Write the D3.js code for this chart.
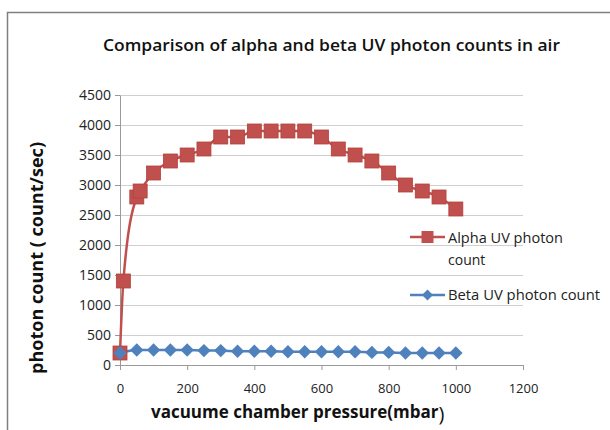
<!DOCTYPE html>
<html>
<head>
<style>
  body { margin: 0; background: #fff; }
  text { font-family: "Open Sans", sans-serif; }
</style>
</head>
<body>
<svg id="chart" width="610" height="430"></svg>
<script src="https://d3js.org/d3.v7.min.js"></script>
<script>
// pressure (mbar) and counts
const alphaPressure = [0, 10, 50, 60, 100, 150, 200, 250, 300, 350, 400, 450, 500, 550, 600, 650, 700, 750, 800, 850, 900, 950, 1000];
const alphaCounts = [200, 1400, 2800, 2900, 3200, 3400, 3500, 3600, 3800, 3800, 3900, 3900, 3900, 3900, 3800, 3600, 3500, 3400, 3200, 3000, 2900, 2800, 2600];
const betaPressure = [0, 50, 100, 150, 200, 250, 300, 350, 400, 450, 500, 550, 600, 650, 700, 750, 800, 850, 900, 950, 1000];
const betaCounts = [200, 250, 250, 250, 250, 240, 240, 230, 230, 230, 220, 220, 220, 220, 220, 210, 210, 200, 200, 200, 200];
const xTicks = [0, 200, 400, 600, 800, 1000, 1200];
const yTicks = [0, 500, 1000, 1500, 2000, 2500, 3000, 3500, 4000, 4500];

const svg = d3.select('#chart');

// outer chart frame (runs off the right and bottom edge)
svg.append('rect')
  .attr('x', 7.5).attr('y', 12.5)
  .attr('width', 700).attr('height', 500)
  .attr('fill', 'none').attr('stroke', '#7f7f7f').attr('stroke-width', 1.5);

const x = d3.scaleLinear().domain([0, 1200]).range([120, 523]);
const y = d3.scaleLinear().domain([0, 4500]).range([365, 95]);

// gridlines
svg.append('g')
  .selectAll('line')
  .data(yTicks.filter(d => d > 0))
  .join('line')
  .attr('x1', x(0)).attr('x2', x(1200))
  .attr('y1', d => y(d) + 0.5).attr('y2', d => y(d) + 0.5)
  .attr('stroke', '#cfcfcf').attr('stroke-width', 1.2);

// y axis
const yAxis = svg.append('g')
  .attr('transform', `translate(${x(0)},0)`)
  .call(d3.axisLeft(y).tickValues(yTicks).tickFormat(d3.format('d')).tickSize(5).tickSizeOuter(0).tickPadding(4));
yAxis.select('.domain').attr('stroke', '#9a9a9a');
yAxis.selectAll('.tick line').attr('stroke', '#9a9a9a');
yAxis.selectAll('text').attr('font-size', 14).attr('fill', '#222')
  .style('font-family', '"Open Sans", sans-serif');

// x axis
const xAxis = svg.append('g')
  .attr('transform', `translate(0,${y(0)})`)
  .call(d3.axisBottom(x).tickValues(xTicks).tickFormat(d3.format('d')).tickSize(5).tickSizeOuter(0).tickPadding(14));
xAxis.select('.domain').attr('stroke', '#9a9a9a');
xAxis.selectAll('.tick line').attr('stroke', '#9a9a9a');
xAxis.selectAll('text').attr('font-size', 13).attr('fill', '#222')
  .style('font-family', '"Open Sans", sans-serif');

// lines
const alphaData = alphaPressure.map((p, i) => [p, alphaCounts[i]]);
const betaData = betaPressure.map((p, i) => [p, betaCounts[i]]);
const line = d3.line().x(d => x(d[0])).y(d => y(d[1])).curve(d3.curveMonotoneX);

svg.append('path').datum(alphaData).attr('d', line)
  .attr('fill', 'none').attr('stroke', '#c0504d').attr('stroke-width', 2.5);
svg.append('path').datum(betaData).attr('d', line)
  .attr('fill', 'none').attr('stroke', '#4f81bd').attr('stroke-width', 2.5);

// markers
const sq = 14;
svg.append('g').selectAll('rect')
  .data(alphaData)
  .join('rect')
  .attr('x', d => x(d[0]) - sq / 2).attr('y', d => y(d[1]) - sq / 2)
  .attr('width', sq).attr('height', sq)
  .attr('fill', '#c0504d').attr('stroke', '#b5403d').attr('stroke-width', 0.8);

svg.append('g').selectAll('path')
  .data(betaData)
  .join('path')
  .attr('transform', d => `translate(${x(d[0])},${y(d[1])}) rotate(45)`)
  .attr('d', d3.symbol().type(d3.symbolSquare).size(90))
  .attr('fill', '#4f81bd');

// title
svg.append('text')
  .attr('x', 103).attr('y', 51)
  .attr('textLength', 457).attr('lengthAdjust', 'spacingAndGlyphs')
  .attr('font-size', 17).attr('font-weight', 600).attr('fill', '#111')
  .text('Comparison of alpha and beta UV photon  counts in air');

// y axis title
svg.append('text')
  .attr('transform', 'translate(43,258) rotate(-90)')
  .attr('text-anchor', 'middle')
  .attr('textLength', 232).attr('lengthAdjust', 'spacingAndGlyphs')
  .attr('font-size', 17).attr('font-weight', 'bold').attr('fill', '#111')
  .text('photon count ( count/sec)');

// x axis title, the closing bracket is drawn larger as in the original
const xt = svg.append('text')
  .attr('x', 151).attr('y', 418)
  .attr('font-size', 17).attr('font-weight', 'bold').attr('fill', '#111');
xt.append('tspan').text('vacuume chamber pressure(mbar');
xt.append('tspan').attr('dy', 3).attr('font-size', 20).attr('font-weight', 'normal').text(')');

// legend
const legend = svg.append('g');
legend.append('line').attr('x1', 410).attr('x2', 445).attr('y1', 237).attr('y2', 237)
  .attr('stroke', '#c0504d').attr('stroke-width', 2.5);
legend.append('rect').attr('x', 427.5 - 6).attr('y', 237 - 6).attr('width', 12).attr('height', 12)
  .attr('fill', '#c0504d');
legend.append('text').attr('x', 448).attr('y', 243).attr('font-size', 14).attr('fill', '#222')
  .attr('textLength', 115).attr('lengthAdjust', 'spacingAndGlyphs')
  .text('Alpha UV photon');
legend.append('text').attr('x', 448).attr('y', 265).attr('font-size', 14).attr('fill', '#222')
  .text('count');
legend.append('line').attr('x1', 410).attr('x2', 445).attr('y1', 295).attr('y2', 295)
  .attr('stroke', '#4f81bd').attr('stroke-width', 2.5);
legend.append('path')
  .attr('transform', 'translate(427.5,295) rotate(45)')
  .attr('d', d3.symbol().type(d3.symbolSquare).size(60))
  .attr('fill', '#4f81bd');
legend.append('text').attr('x', 448).attr('y', 300).attr('font-size', 14).attr('fill', '#222')
  .attr('textLength', 152).attr('lengthAdjust', 'spacingAndGlyphs')
  .text('Beta UV photon count');
</script>
</body>
</html>
